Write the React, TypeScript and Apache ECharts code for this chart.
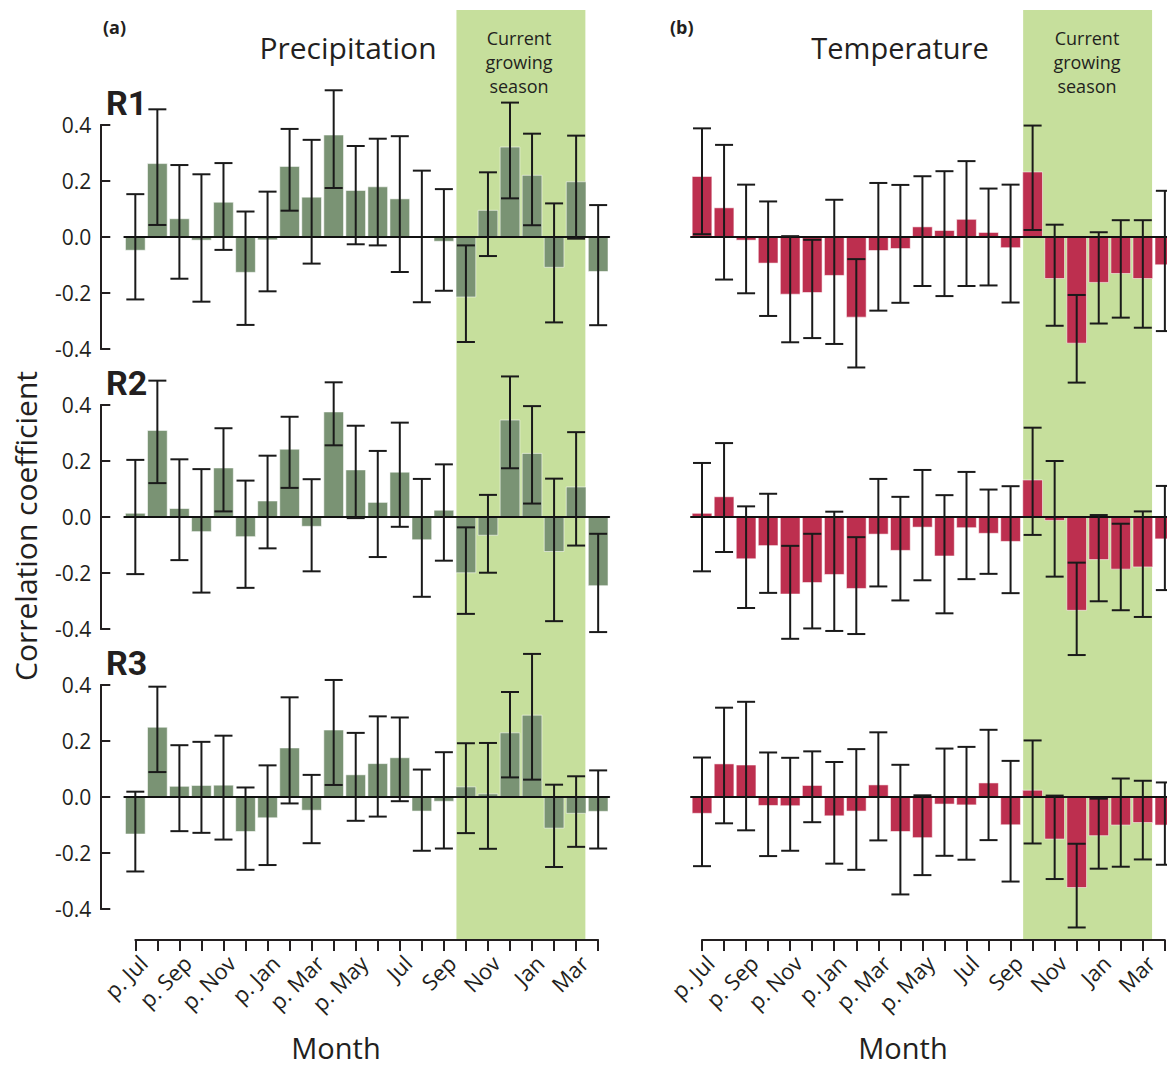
import React, { useEffect, useRef } from "react";
import * as echarts from "echarts";

const MONTHS = ["p. Jul","p. Aug","p. Sep","p. Oct","p. Nov","p. Dec","p. Jan","p. Feb","p. Mar","p. Apr","p. May","p. Jun","Jul","Aug","Sep","Oct","Nov","Dec","Jan","Feb","Mar","Apr"];
const ROW_LABELS = ["R1", "R2", "R3"];
const SEASON_START = 14.57;
const SEASON_END = 20.42;

const PRECIP_R1 = [-0.049, 0.264, 0.067, -0.013, 0.126, -0.128, -0.012, 0.254, 0.144, 0.366, 0.168, 0.181, 0.138, 0.0, -0.017, -0.216, 0.097, 0.323, 0.222, -0.110, 0.199, -0.125];
const PRECIP_R1_HI = [0.153, 0.456, 0.257, 0.224, 0.264, 0.091, 0.162, 0.386, 0.347, 0.524, 0.325, 0.351, 0.360, 0.237, 0.171, -0.030, 0.231, 0.480, 0.369, 0.120, 0.362, 0.114];
const PRECIP_R1_LO = [-0.223, 0.043, -0.149, -0.231, -0.046, -0.314, -0.194, 0.094, -0.095, 0.175, -0.026, -0.030, -0.125, -0.233, -0.192, -0.375, -0.068, 0.138, 0.042, -0.305, -0.006, -0.315];

const PRECIP_R2 = [0.015, 0.311, 0.032, -0.054, 0.177, -0.072, 0.059, 0.244, -0.035, 0.377, 0.170, 0.054, 0.162, -0.083, 0.026, -0.201, -0.067, 0.348, 0.229, -0.125, 0.109, -0.247];
const PRECIP_R2_HI = [0.204, 0.487, 0.206, 0.171, 0.317, 0.130, 0.219, 0.358, 0.135, 0.481, 0.326, 0.236, 0.337, 0.136, 0.188, -0.037, 0.079, 0.502, 0.396, 0.137, 0.303, -0.060];
const PRECIP_R2_LO = [-0.204, 0.121, -0.154, -0.270, 0.020, -0.253, -0.112, 0.104, -0.194, 0.256, -0.004, -0.143, -0.035, -0.285, -0.156, -0.346, -0.199, 0.174, 0.048, -0.372, -0.102, -0.411];

const PRECIP_R3 = [-0.134, 0.251, 0.040, 0.043, 0.044, -0.125, -0.076, 0.177, -0.049, 0.241, 0.081, 0.121, 0.142, -0.052, -0.017, 0.038, 0.013, 0.231, 0.294, -0.113, -0.060, -0.053];
const PRECIP_R3_HI = [0.019, 0.394, 0.185, 0.197, 0.219, 0.034, 0.113, 0.356, 0.079, 0.418, 0.229, 0.288, 0.284, 0.098, 0.160, 0.192, 0.193, 0.375, 0.511, 0.044, 0.074, 0.095];
const PRECIP_R3_LO = [-0.266, 0.089, -0.122, -0.128, -0.152, -0.260, -0.243, -0.023, -0.165, 0.043, -0.085, -0.070, -0.015, -0.192, -0.184, -0.129, -0.185, 0.070, 0.062, -0.250, -0.178, -0.184];

const TEMP_R1 = [0.218, 0.106, -0.013, -0.095, -0.206, -0.200, -0.139, -0.288, -0.050, -0.043, 0.038, 0.025, 0.065, 0.018, -0.040, 0.234, -0.150, -0.381, -0.164, -0.132, -0.150, -0.101];
const TEMP_R1_HI = [0.388, 0.329, 0.187, 0.127, 0.003, -0.010, 0.133, -0.079, 0.193, 0.186, 0.217, 0.235, 0.271, 0.173, 0.187, 0.398, 0.044, -0.207, 0.017, 0.060, 0.060, 0.165];
const TEMP_R1_LO = [0.010, -0.152, -0.201, -0.282, -0.376, -0.361, -0.382, -0.466, -0.263, -0.235, -0.175, -0.211, -0.175, -0.173, -0.234, 0.025, -0.317, -0.520, -0.309, -0.288, -0.324, -0.336];

const TEMP_R2 = [0.015, 0.074, -0.151, -0.104, -0.277, -0.236, -0.207, -0.257, -0.063, -0.121, -0.038, -0.141, -0.040, -0.060, -0.089, 0.134, -0.014, -0.335, -0.154, -0.188, -0.180, -0.080];
const TEMP_R2_HI = [0.193, 0.264, 0.038, 0.083, -0.103, -0.060, 0.019, -0.072, 0.136, 0.072, 0.168, 0.078, 0.161, 0.098, 0.110, 0.319, 0.200, -0.163, 0.007, -0.024, 0.020, 0.111];
const TEMP_R2_LO = [-0.194, -0.125, -0.325, -0.271, -0.435, -0.398, -0.407, -0.418, -0.248, -0.298, -0.226, -0.344, -0.222, -0.203, -0.272, -0.064, -0.213, -0.493, -0.301, -0.333, -0.357, -0.261];

const TEMP_R3 = [-0.060, 0.120, 0.116, -0.032, -0.033, 0.043, -0.069, -0.052, 0.045, -0.125, -0.147, -0.027, -0.030, 0.052, -0.101, 0.026, -0.152, -0.325, -0.140, -0.102, -0.093, -0.102];
const TEMP_R3_HI = [0.141, 0.319, 0.340, 0.159, 0.140, 0.163, 0.125, 0.171, 0.231, 0.115, 0.006, 0.173, 0.179, 0.240, 0.129, 0.202, 0.005, -0.167, -0.006, 0.066, 0.058, 0.052];
const TEMP_R3_LO = [-0.247, -0.094, -0.119, -0.211, -0.192, -0.090, -0.238, -0.260, -0.155, -0.348, -0.279, -0.210, -0.224, -0.154, -0.302, -0.166, -0.293, -0.466, -0.256, -0.249, -0.223, -0.242];

const FONT = "'Open Sans', 'DejaVu Sans', sans-serif";
const INK = "#231f20";
const GREEN = "#7a9374";
const RED = "#bd2f4f";
const SHADE = "#c6df9c";

const PANELS = [
  { left: 124.3, axisLeft: 135.3, color: GREEN, rows: [[PRECIP_R1, PRECIP_R1_LO, PRECIP_R1_HI], [PRECIP_R2, PRECIP_R2_LO, PRECIP_R2_HI], [PRECIP_R3, PRECIP_R3_LO, PRECIP_R3_HI]], showY: true },
  { left: 691, axisLeft: 702, color: RED, rows: [[TEMP_R1, TEMP_R1_LO, TEMP_R1_HI], [TEMP_R2, TEMP_R2_LO, TEMP_R2_HI], [TEMP_R3, TEMP_R3_LO, TEMP_R3_HI]], showY: false },
];
const BAND = 22.04;
const ROW_TOPS = [125, 405, 685];
const ROW_H = 224;

function buildOption() {
  const grid: any[] = [];
  const xAxis: any[] = [];
  const yAxis: any[] = [];
  const series: any[] = [];
  const W = BAND * MONTHS.length;

  PANELS.forEach((p) => {
    const gi = grid.length;
    grid.push({ left: p.left, top: 10, width: W, height: 930 });
    xAxis.push({ gridIndex: gi, type: "value", min: -0.5, max: MONTHS.length - 0.5, show: false });
    yAxis.push({ gridIndex: gi, type: "value", min: 0, max: 1, show: false });
    series.push({
      type: "custom", xAxisIndex: gi, yAxisIndex: gi, z: 0, silent: true, clip: false,
      data: [[SEASON_START, SEASON_END]],
      renderItem: (_: any, api: any) => {
        const a = api.coord([api.value(0), 1]);
        const b = api.coord([api.value(1), 0]);
        return { type: "rect", shape: { x: a[0], y: a[1], width: b[0] - a[0], height: b[1] - a[1] }, style: { fill: SHADE } };
      },
    });

    const bi = grid.length;
    grid.push({ left: p.axisLeft, top: 939, width: BAND * (MONTHS.length - 1), height: 1 });
    xAxis.push({
      gridIndex: bi, type: "category", data: MONTHS, boundaryGap: false, position: "bottom",
      axisLine: { show: true, lineStyle: { color: INK, width: 2 } },
      axisTick: { show: true, interval: 0, length: 11, lineStyle: { color: INK, width: 2 } },
      axisLabel: { show: true, interval: 1, rotate: 45, margin: 11, fontSize: 22, color: INK, fontFamily: FONT, verticalAlign: "top" },
      splitLine: { show: false },
    });
    yAxis.push({ gridIndex: bi, type: "value", show: false });

    p.rows.forEach((row, r) => {
      const idx = grid.length;
      grid.push({ left: p.left, top: ROW_TOPS[r], width: W, height: ROW_H });
      xAxis.push({
        gridIndex: idx, type: "category", data: MONTHS, boundaryGap: true, z: 5,
        axisLine: { show: true, onZero: true, lineStyle: { color: "#111", width: 2 } },
        axisTick: { show: false }, axisLabel: { show: false }, splitLine: { show: false },
      });
      yAxis.push({
        gridIndex: idx, type: "value", min: -0.4, max: 0.4, interval: 0.2, show: p.showY, offset: 24,
        axisLine: { show: true, lineStyle: { color: INK, width: 2 } },
        axisTick: { show: true, inside: true, length: 10, lineStyle: { color: INK, width: 2 } },
        axisLabel: {
          show: true, margin: 9, fontSize: 21, color: INK, fontFamily: FONT,
          formatter: (v: number) => (Math.abs(v) < 1e-9 ? "0.0" : v.toFixed(1)),
        },
        splitLine: { show: false },
      });
      const [vals, lo, hi] = row;
      series.push({
        type: "bar", xAxisIndex: idx, yAxisIndex: idx, z: 2, barCategoryGap: "6%",
        data: vals,
        itemStyle: { color: p.color, borderColor: "rgba(255,255,255,0.55)", borderWidth: 1 },
      });
      series.push({
        type: "custom", xAxisIndex: idx, yAxisIndex: idx, z: 6, clip: false, silent: true,
        data: MONTHS.map((_, i) => [i, lo[i], hi[i]]),
        encode: { x: 0, y: [1, 2] },
        renderItem: (_: any, api: any) => {
          const x = api.value(0);
          const pl = api.coord([x, api.value(1)]);
          const ph = api.coord([x, api.value(2)]);
          const hw = 9;
          const st = { stroke: "#1a1a1a", lineWidth: 2 };
          return {
            type: "group",
            children: [
              { type: "line", shape: { x1: ph[0], y1: ph[1], x2: pl[0], y2: pl[1] }, style: st },
              { type: "line", shape: { x1: ph[0] - hw, y1: ph[1], x2: ph[0] + hw, y2: ph[1] }, style: st },
              { type: "line", shape: { x1: pl[0] - hw, y1: pl[1], x2: pl[0] + hw, y2: pl[1] }, style: st },
            ],
          };
        },
      });
    });
  });

  const txt = (x: number, y: number, text: string, font: string, align = "center") => ({
    type: "text", x, y, z: 10,
    style: { text, font, fill: INK, align, verticalAlign: "middle" },
  });

  const graphic: any[] = [
    txt(103, 27, "(a)", `bold 18px ${FONT}`, "left"),
    txt(670, 27, "(b)", `bold 18px ${FONT}`, "left"),
    txt(348, 47, "Precipitation", `30px ${FONT}`),
    txt(900, 47, "Temperature", `29px ${FONT}`),
    txt(336, 1047, "Month", `29px ${FONT}`),
    txt(903, 1047, "Month", `29px ${FONT}`),
    {
      type: "text", x: 25, y: 526, rotation: Math.PI / 2, z: 10,
      style: { text: "Correlation coefficient", font: `30px ${FONT}`, fill: INK, align: "center", verticalAlign: "middle" },
    },
  ];
  [519, 1087].forEach((cx) => {
    ["Current", "growing", "season"].forEach((w, i) => graphic.push(txt(cx, 38 + i * 24, w, `18px ${FONT}`)));
  });
  ROW_LABELS.forEach((l, i) => {
    graphic.push(txt(106, 103 + i * 280, l, `bold 34px Roboto, ${FONT}`, "left"));
  });

  return { animation: false, backgroundColor: "#ffffff", grid, xAxis, yAxis, series, graphic };
}

export default function App() {
  const ref = useRef<HTMLDivElement>(null);
  useEffect(() => {
    if (!ref.current) return;
    const chart = echarts.init(ref.current, null, { renderer: "svg" });
    chart.setOption(buildOption() as any);
    return () => chart.dispose();
  }, []);
  return (
    <div style={{ position: "absolute", left: 0, top: 0, width: 1167, height: 1065, overflow: "hidden", background: "#fff" }}>
      <div ref={ref} style={{ width: 1200, height: 1065 }} />
    </div>
  );
}
